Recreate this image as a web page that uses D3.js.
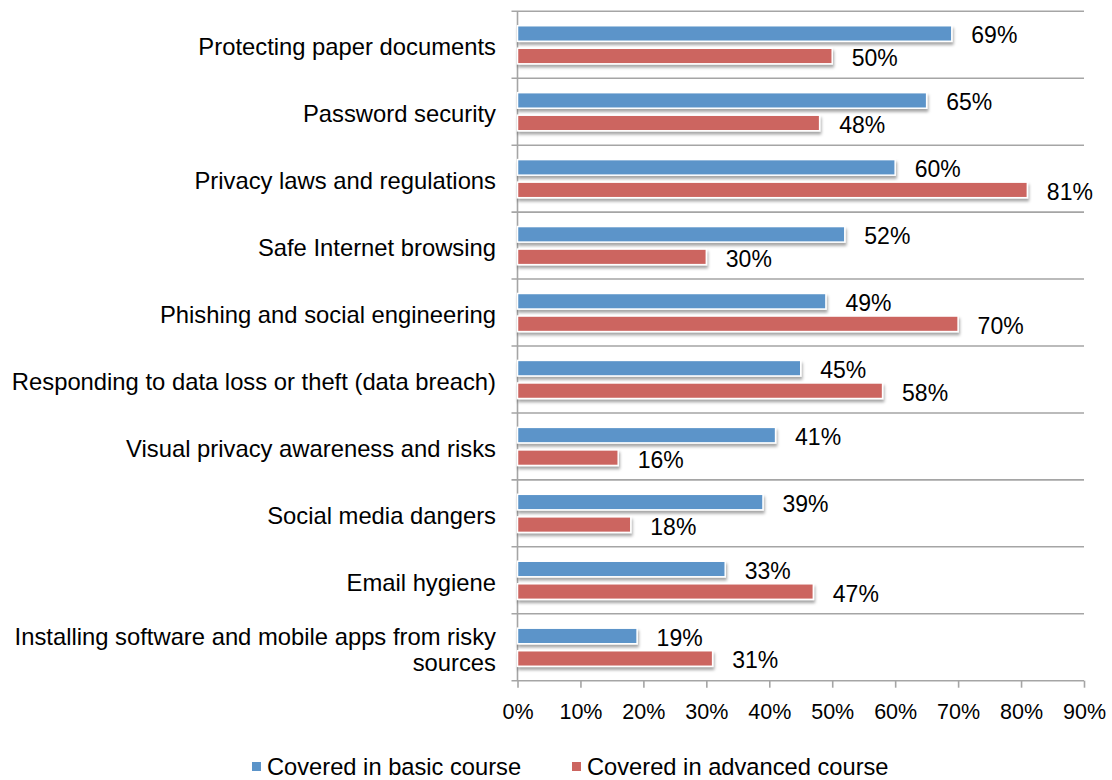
<!DOCTYPE html>
<html>
<head>
<meta charset="utf-8">
<script src="https://cdn.jsdelivr.net/npm/d3@7"></script>
<style>
  html, body { margin: 0; padding: 0; background: #fff; }
  svg text { font-family: "Liberation Sans", Arial, sans-serif; fill: #000; }
</style>
</head>
<body>
<svg id="chart" width="1112" height="780"></svg>
<script>
// Topics covered in security awareness training, share of respondents
const categories = [
  "Protecting paper documents",
  "Password security",
  "Privacy laws and regulations",
  "Safe Internet browsing",
  "Phishing and social engineering",
  "Responding to data loss or theft (data breach)",
  "Visual privacy awareness and risks",
  "Social media dangers",
  "Email hygiene",
  "Installing software and mobile apps from risky sources"
];
const basicValues    = [69, 65, 60, 52, 49, 45, 41, 39, 33, 19];
const advancedValues = [50, 48, 81, 30, 70, 58, 16, 18, 47, 31];
const seriesNames = ["Covered in basic course", "Covered in advanced course"];
const seriesColors = ["#5b94c9", "#cc6560"];
const tickValues = [0, 10, 20, 30, 40, 50, 60, 70, 80, 90];

const svg = d3.select("#chart");
const plotLeft = 517.5, plotRight = 1084, plotTop = 11.3, plotBottom = 680.7;

const x = d3.scaleLinear().domain([0, 90]).range([plotLeft, plotRight]);
const y0 = d3.scaleBand().domain(categories).range([plotTop, plotBottom]);
const y1 = d3.scaleBand().domain(seriesNames).range([0, y0.bandwidth()])
  .paddingInner(0.31).paddingOuter(0.64);

const defs = svg.append("defs");
const shadow = defs.append("filter").attr("id", "barShadow")
  .attr("x", "-5%").attr("y", "-30%").attr("width", "115%").attr("height", "190%");
shadow.append("feDropShadow").attr("dx", 1).attr("dy", 3)
  .attr("stdDeviation", 1.6).attr("flood-color", "#000").attr("flood-opacity", 0.35);

const gridColor = "#a5a5a5";

// Category separators (horizontal grid) with short ticks left of the axis
const bounds = categories.map(c => y0(c)).concat([plotBottom]);
svg.append("g").selectAll("line").data(bounds).join("line")
  .attr("x1", plotLeft - 6).attr("x2", plotRight)
  .attr("y1", d => d).attr("y2", d => d)
  .attr("stroke", gridColor).attr("stroke-width", 1.6);

// Vertical category axis line
svg.append("line")
  .attr("x1", plotLeft).attr("x2", plotLeft).attr("y1", plotTop).attr("y2", plotBottom)
  .attr("stroke", gridColor).attr("stroke-width", 1.6);

// Bottom value axis
const xAxis = d3.axisBottom(x).tickValues(tickValues)
  .tickFormat(d => d + "%").tickSize(7).tickPadding(16);
const gx = svg.append("g").attr("transform", `translate(0,${plotBottom})`).call(xAxis);
gx.select(".domain").remove();
gx.selectAll(".tick line").attr("stroke", gridColor).attr("stroke-width", 1.6);
gx.selectAll(".tick text")
  .attr("font-size", 21.5).attr("fill", "#000")
  .style("font-family", '"Liberation Sans", Arial, sans-serif');

// Bars
const rows = categories.map((c, i) => ({
  category: c,
  values: [
    { series: seriesNames[0], value: basicValues[i], color: seriesColors[0] },
    { series: seriesNames[1], value: advancedValues[i], color: seriesColors[1] }
  ]
}));

const groups = svg.append("g").selectAll("g").data(rows).join("g")
  .attr("transform", d => `translate(0,${y0(d.category)})`);

groups.selectAll("rect").data(d => d.values).join("rect")
  .attr("x", x(0))
  .attr("y", d => y1(d.series))
  .attr("width", d => x(d.value) - x(0))
  .attr("height", y1.bandwidth())
  .attr("fill", d => d.color)
  .attr("stroke", "#fff").attr("stroke-width", 1.5)
  .attr("filter", "url(#barShadow)");

groups.selectAll("text.value").data(d => d.values).join("text")
  .attr("class", "value")
  .attr("x", d => x(d.value) + 19.5)
  .attr("y", d => y1(d.series) + y1.bandwidth() / 2 + 2)
  .attr("dominant-baseline", "central")
  .attr("font-size", 23)
  .text(d => d.value + "%");

// Category labels, wrapped where the name is too long
const wrapped = {
  "Installing software and mobile apps from risky sources":
    ["Installing software and mobile apps from risky", "sources"]
};
const catLabels = svg.append("g").selectAll("text").data(categories).join("text")
  .attr("x", plotLeft - 21.5)
  .attr("y", d => y0(d) + y0.bandwidth() / 2 + 1.5)
  .attr("text-anchor", "end")
  .attr("dominant-baseline", "central")
  .attr("font-size", 23.8);
catLabels.each(function(d) {
  const lines = wrapped[d] || [d];
  const t = d3.select(this);
  const lh = 26;
  lines.forEach((ln, i) => {
    t.append("tspan")
      .attr("x", plotLeft - 21.5)
      .attr("dy", i === 0 ? -(lines.length - 1) * lh / 2 : lh)
      .text(ln);
  });
});

// Legend
const legendItems = [
  { name: seriesNames[0], color: seriesColors[0], x: 252 },
  { name: seriesNames[1], color: seriesColors[1], x: 572 }
];
const lg = svg.append("g").selectAll("g").data(legendItems).join("g")
  .attr("transform", d => `translate(${d.x},762)`);
lg.append("rect").attr("width", 9).attr("height", 9).attr("fill", d => d.color);
lg.append("text").attr("x", 15).attr("y", 5)
  .attr("dominant-baseline", "central")
  .attr("font-size", 23.7)
  .text(d => d.name);
</script>
</body>
</html>
